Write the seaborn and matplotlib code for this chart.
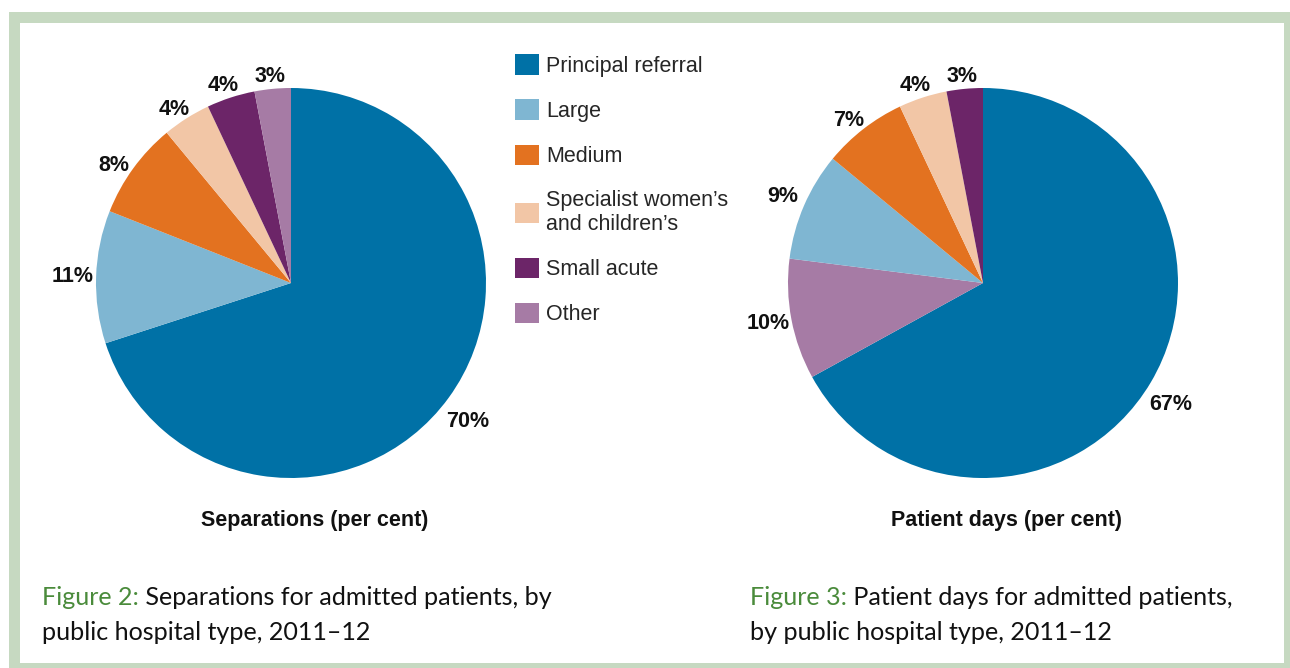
import matplotlib
matplotlib.use("Agg")
import matplotlib.pyplot as plt
from matplotlib.patches import Patch, Rectangle
import seaborn as sns

# hospital types, in legend order
categories = ["Principal referral", "Large", "Medium",
              "Specialist women\u2019s\nand children\u2019s", "Small acute", "Other"]
colors = ["#0071A6", "#7FB6D2", "#E37220", "#F2C6A6", "#6C2568", "#A67BA5"]

# Figure 2: separations (per cent)
sep_values = [70, 11, 8, 4, 4, 3]
# Figure 3: patient days (per cent)
day_values = [67, 9, 7, 4, 3, 10]
# slice order used in the patient days pie (clockwise from the top)
day_order = [0, 5, 1, 2, 3, 4]

sns.set_theme(style="white")
plt.rcParams["font.family"] = ["Liberation Sans", "DejaVu Sans"]

W, H = 1290, 668
fig = plt.figure(figsize=(W / 100, H / 100), dpi=100)
fig.patch.set_facecolor("white")

# green frame round the panel
fig.add_artist(Rectangle((9 / W, 0), (W - 9) / W, (H - 12) / H, transform=fig.transFigure,
                         facecolor="#C6D9C1", edgecolor="none", zorder=-3))
fig.add_artist(Rectangle((20 / W, 5 / H), (1284 - 20) / W, (663 - 23) / H, transform=fig.transFigure,
                         facecolor="white", edgecolor="none", zorder=-2))


def draw_pie(cx, cy, r, values, cols, title):
    ax = fig.add_axes([(cx - r) / W, 1 - (cy + r) / H, 2 * r / W, 2 * r / H])
    wedges, texts = ax.pie(values, colors=cols, startangle=90, counterclock=False,
                           labels=[f"{v}%" for v in values], labeldistance=1.12,
                           wedgeprops=dict(linewidth=0),
                           textprops=dict(fontsize=15.5, fontweight="bold", color="#111111"))
    for t in texts:
        t.set_ha("center")
        t.set_va("top" if abs(t.get_position()[1]) > 0.5 else "center")
    ax.set_xlim(-1, 1)
    ax.set_ylim(-1, 1)
    ax.set_aspect("equal")
    ax.axis("off")
    ax.text(0.12, -1.22, title, ha="center", va="center", fontsize=15.5,
            fontweight="bold", color="#111111")
    return ax


draw_pie(291, 283, 195, sep_values, colors, "Separations (per cent)")
draw_pie(983, 283, 195, [day_values[i] for i in day_order],
         [colors[i] for i in day_order], "Patient days (per cent)")

handles = [Patch(facecolor=c, edgecolor="none") for c in colors]
fig.legend(handles, categories, loc="upper left", bbox_to_anchor=(515 / W, 1 - 54 / H),
           frameon=False, fontsize=15.5, handlelength=1.1, handleheight=1.1,
           handletextpad=0.35, labelspacing=1.05, borderpad=0, borderaxespad=0)

# captions
cap_font = ["Lato", "DejaVu Sans"]
green = "#4A8B3B"
captions = [
    (42, "Figure 2:", " Separations for admitted patients, by", "public hospital type, 2011\u201312"),
    (750, "Figure 3:", " Patient days for admitted patients,", "by public hospital type, 2011\u201312"),
]
cap_ax = fig.add_axes([0, 0, 1, 1], zorder=-1)
cap_ax.axis("off")
for x, head, rest, line2 in captions:
    t1 = fig.text(x / W, 1 - 605 / H, head, color=green, fontsize=18.1,
                  family=cap_font, va="baseline")
    cap_ax.annotate(rest, xy=(1, 0), xycoords=t1, xytext=(0, 0), textcoords="offset points",
                    ha="left", va="bottom", color="#111111", fontsize=18.1, family=cap_font)
    fig.text(x / W, 1 - 640 / H, line2, color="#111111", fontsize=18.1,
             family=cap_font, va="baseline")

fig.savefig("out.png", dpi=100)
